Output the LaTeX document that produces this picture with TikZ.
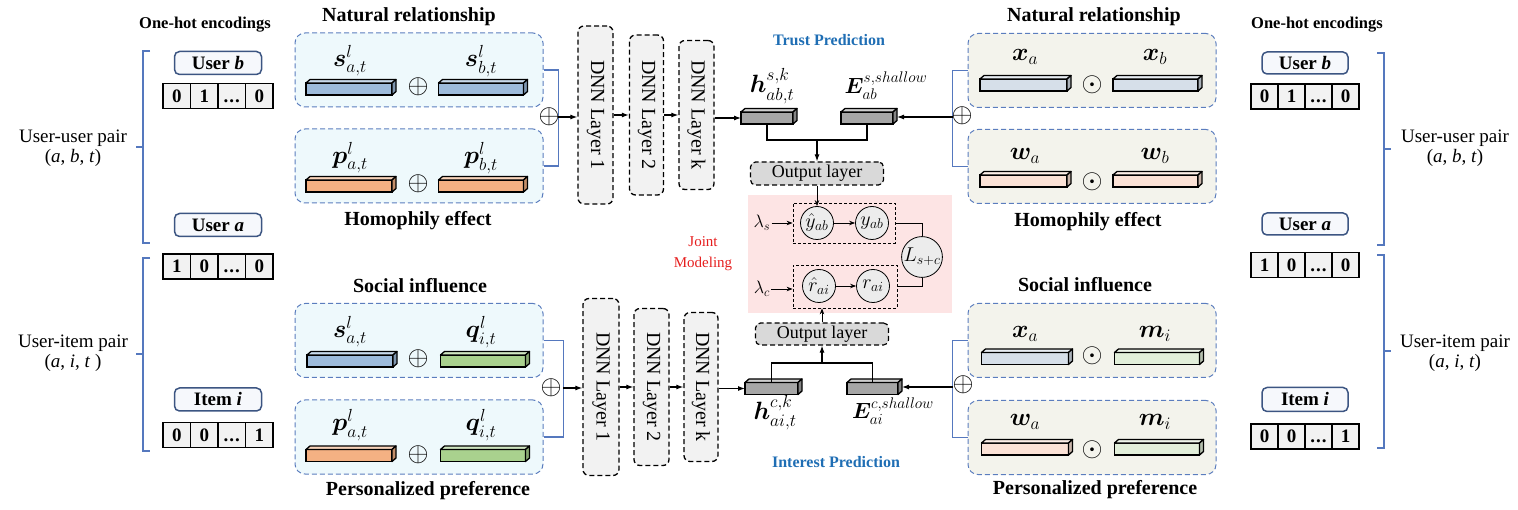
\RequirePackage{fix-cm}
\documentclass[tikz,border=0pt]{standalone}
\usepackage{amsmath}
\usepackage{bm}
\usepackage{fontspec}
\setmainfont{Liberation Serif}
\usetikzlibrary{arrows.meta,calc}
\definecolor{panelblue}{RGB}{91,125,190}
\definecolor{brkblue}{RGB}{85,120,190}
\definecolor{cyanbg}{RGB}{238,249,252}
\definecolor{beigebg}{RGB}{243,243,236}
\definecolor{barblue}{RGB}{157,187,219}
\definecolor{barorange}{RGB}{244,177,131}
\definecolor{bargreen}{RGB}{169,209,142}
\definecolor{bargray}{RGB}{166,166,166}
\definecolor{barxl}{RGB}{214,223,233}
\definecolor{barwl}{RGB}{251,226,214}
\definecolor{barml}{RGB}{226,239,218}
\definecolor{dnnfill}{RGB}{242,242,242}
\definecolor{outfill}{RGB}{217,217,217}
\definecolor{pinkbg}{RGB}{253,228,228}
\definecolor{trustblue}{RGB}{31,110,180}
\definecolor{jointred}{RGB}{230,30,30}
\definecolor{userborder}{RGB}{60,85,130}
\definecolor{userfill}{RGB}{246,248,252}
\definecolor{circfill}{RGB}{236,236,236}
\definecolor{cellfill}{RGB}{242,242,242}

\tikzset{
  barfront/.style={draw=black, line width=1.3pt, minimum height=12pt, inner sep=0pt, outer sep=0pt},
  barface/.style={draw=black, line width=1.3pt, line join=round},
  panelL/.style={draw=panelblue, line width=1pt, dash pattern=on 5pt off 3pt, rounded corners=10pt, fill=cyanbg, minimum width=248pt, minimum height=74pt, inner sep=0pt},
  panelR/.style={panelL, fill=beigebg},
  ttl/.style={font=\fontsize{20}{22}\selectfont\bfseries},
  ttls/.style={font=\fontsize{16.5}{18}\selectfont\bfseries},
  pairlab/.style={font=\fontsize{19}{20}\selectfont, align=center},
  userbox/.style={draw=userborder, line width=1.5pt, rounded corners=5pt, fill=userfill, minimum width=87pt, minimum height=23pt, inner sep=0pt, font=\fontsize{19}{20}\selectfont\bfseries},
  cell/.style={draw=black, line width=1.3pt, fill=cellfill, minimum height=25pt, inner sep=0pt, font=\fontsize{19}{20}\selectfont\bfseries},
  dnn/.style={draw=black, line width=1.3pt, dash pattern=on 5pt off 3pt, rounded corners=6pt, fill=dnnfill, inner sep=0pt, font=\fontsize{20}{22}\selectfont},
  outbox/.style={draw=black, line width=1.2pt, dash pattern=on 5pt off 3pt, rounded corners=5pt, fill=outfill, minimum width=133pt, minimum height=23pt, inner sep=0pt, font=\fontsize{18}{20}\selectfont},
  jbox/.style={draw=black, line width=0.8pt, dash pattern=on 3pt off 2pt, inner sep=0pt},
  circ/.style={circle, draw=black, line width=0.8pt, fill=circfill, minimum size=33pt, inner sep=0pt, font=\fontsize{20}{20}\selectfont},
  mlab/.style={inner sep=0pt, font=\fontsize{25}{26}\selectfont},
  elab/.style={inner sep=0pt, font=\fontsize{22}{24}\selectfont},
  opl/.style={inner sep=0pt, font=\fontsize{27}{27}\selectfont},
  brk/.style={draw=brkblue, line width=1.1pt},
  arr/.style={-{Latex[length=7pt,width=5pt]}, line width=1.1pt},
  sarr/.style={-{Stealth[length=6pt,width=4.5pt]}, line width=0.8pt},
  conn/.style={line width=1.1pt},
  lam/.style={inner sep=1pt, font=\fontsize{18}{18}\selectfont},
}

% name, x, y, width, colour
\newcommand{\mycube}[5]{%
  \node[barfront, minimum width=#4pt, fill=#5] (#1) at (#2,#3) {};
  \path[barface, fill=#5!55!white] (#1.north west) -- ++(4pt,3.5pt) -- ([shift={(4pt,3.5pt)}]#1.north east) -- (#1.north east) -- cycle;
  \path[barface, fill=#5!80!black] (#1.north east) -- ++(4pt,3.5pt) -- ([shift={(4pt,3.5pt)}]#1.south east) -- (#1.south east) -- cycle;
}
% prefix, x, y, cellwidth, d1..d4
\newcommand{\onehot}[8]{%
  \node[cell, minimum width=#4pt] (#1-1) at ({#2-1.5*#4},#3) {\vphantom{0}#5};
  \node[cell, minimum width=#4pt] (#1-2) at ({#2-0.5*#4},#3) {\vphantom{0}#6};
  \node[cell, minimum width=#4pt] (#1-3) at ({#2+0.5*#4},#3) {\vphantom{0}#7};
  \node[cell, minimum width=#4pt] (#1-4) at ({#2+1.5*#4},#3) {\vphantom{0}#8};
}
\newcommand{\mydots}{.\kern1pt.\kern1pt.}

\begin{document}
\begin{tikzpicture}[x=1pt,y=-1pt]
\useasboundingbox (0,0) rectangle (1518,510);

% ================= LEFT ONE-HOT =================
\node[ttls] (ohL) at (205,25) {One-hot encodings};
\node[userbox] (ubL) at (218,63) {User \textit{b}};
\onehot{tbL}{218}{96}{27.5}{0}{1}{\mydots}{0}
\node[userbox] (uaL) at (218,225) {User \textit{a}};
\onehot{taL}{218}{266.5}{27.5}{1}{0}{\mydots}{0}
\node[userbox] (uiL) at (218,399.5) {Item \textit{i}};
\onehot{tiL}{218}{435}{27.5}{0}{0}{\mydots}{1}

\draw[brk] (150,51) -- (143,51) -- (143,243) -- (150,243);
\draw[brk] (143,147) -- (136,147);
\draw[brk] (150,258) -- (143,258) -- (143,451) -- (150,451);
\draw[brk] (143,354) -- (136,354);
\node[pairlab] (uuL) at (73,148) {User-user pair\\(\textit{a}, \textit{b}, \textit{t})};
\node[pairlab] (uiLlab) at (73,353) {User-item pair\\(\textit{a}, \textit{i}, \textit{t} )};

% ================= LEFT PANELS =================
\node[ttl] (nrL) at (409,17) {Natural relationship};
\node[panelL] (pl1) at (419,70) {};
\node[panelL] (pl2) at (419,166) {};
\node[ttl] (heL) at (418,221) {Homophily effect};
\node[ttl] (siL) at (420,286) {Social influence};
\node[panelL] (pl3) at (419,340.5) {};
\node[panelL] (pl4) at (419,437) {};
\node[ttl] (ppL) at (428,491) {Personalized preference};

\mycube{sa}{349}{89}{86}{barblue}
\mycube{sb}{481}{89}{85}{barblue}
\node[opl] (o1) at (418,87) {$\oplus$};
\node[mlab] (sal) at (350,61) {$\bm{s}^{l}_{a,t}$};
\node[mlab] (sbl) at (481,61) {$\bm{s}^{l}_{b,t}$};

\mycube{pa}{349}{186}{86}{barorange}
\mycube{pb}{481}{186}{85}{barorange}
\node[opl] (o2) at (418,184) {$\oplus$};
\node[mlab] (pal) at (350,158) {$\bm{p}^{l}_{a,t}$};
\node[mlab] (pbl) at (481,158) {$\bm{p}^{l}_{b,t}$};

\mycube{sa2}{350}{361}{86}{barblue}
\mycube{qi}{483}{361}{85}{bargreen}
\node[opl] (o3) at (418,359) {$\oplus$};
\node[mlab] (sa2l) at (350,332) {$\bm{s}^{l}_{a,t}$};
\node[mlab] (qil) at (481,332) {$\bm{q}^{l}_{i,t}$};

\mycube{pa2}{349}{455.5}{86}{barorange}
\mycube{qi2}{483}{455.5}{85}{bargreen}
\node[opl] (o4) at (418,455) {$\oplus$};
\node[mlab] (pa2l) at (350,425) {$\bm{p}^{l}_{a,t}$};
\node[mlab] (qi2l) at (481,425) {$\bm{q}^{l}_{i,t}$};

% brackets to DNN
\draw[brk] (pl1.east) -- ++(15,0) |- (pl2.east);
\node[opl] (opL1) at (549,117) {$\oplus$};
\coordinate (jL1) at (558,117);
\draw[brk] (pl3.east) -- ++(20,0) |- (pl4.east);
\node[opl] (opL2) at (551,388) {$\oplus$};
\coordinate (jL2) at (563,388);

% ================= DNN LAYERS =================
\node[dnn, minimum width=35pt, minimum height=178pt] (d1) at (595.5,115) {\rotatebox{-90}{DNN Layer 1}};
\node[dnn, minimum width=34pt, minimum height=160pt] (d2) at (646.5,115) {\rotatebox{-90}{DNN Layer 2}};
\node[dnn, minimum width=35pt, minimum height=149pt] (d3) at (696.5,115) {\rotatebox{-90}{DNN Layer k}};
\draw[arr] (jL1) -- (jL1 -| d1.west);
\draw[arr] (d1.east) -- (d2.west);
\draw[arr] (d2.east) -- (d3.west);

\node[dnn, minimum width=36pt, minimum height=177pt] (d4) at (601,387) {\rotatebox{-90}{DNN Layer 1}};
\node[dnn, minimum width=35pt, minimum height=157pt] (d5) at (651.5,387) {\rotatebox{-90}{DNN Layer 2}};
\node[dnn, minimum width=34pt, minimum height=149pt] (d6) at (701,387) {\rotatebox{-90}{DNN Layer k}};
\draw[arr] (jL2) -- (jL2 -| d4.west);
\draw[arr] (d4.east) -- (d5.west);
\draw[arr] (d5.east) -- (d6.west);

% ================= TRUST PREDICTION =================
\node[font=\fontsize{16}{18}\selectfont\bfseries, text=trustblue] (tp) at (829,40) {Trust Prediction};
\mycube{hs}{767}{118}{52}{bargray}
\mycube{Es}{867}{118}{52}{bargray}
\node[mlab] (hsl) at (772,86) {$\bm{h}^{s,k}_{ab,t}$};
\node[elab] (Esl) at (886,86) {$\bm{E}^{s,shallow}_{ab}$};
\draw[arr] (d3.east |- hs.west) -- (hs.west);
\draw[conn] (hs.south) -- ++(0,16) -| (Es.south);
\coordinate (mid1) at ($(hs.south)!0.5!(Es.south)+(0,16)$);
\node[outbox] (out1) at (817,173.5) {Output layer};
\draw[arr] (mid1) -- (out1.north);

% ================= JOINT MODELING =================
\node[fill=pinkbg, minimum width=204pt, minimum height=118pt, inner sep=0pt] (joint) at (850,254) {};
\node[font=\fontsize{15}{21}\selectfont, text=jointred, align=center] (jm) at (703,254) {Joint\\Modeling};
\node[jbox, minimum width=102pt, minimum height=40pt] (jb1) at (844,223) {};
\node[jbox, minimum width=104pt, minimum height=43pt] (jb2) at (845,286.5) {};
\node[circ] (yh) at (817,223) {$\hat{y}_{ab}$};
\node[circ] (yy) at (872,223) {$y_{ab}$};
\node[circ] (rh) at (819,286) {$\hat{r}_{ai}$};
\node[circ] (rr) at (873,286) {$r_{ai}$};
\node[circ, minimum size=32pt] (Lsc) at (922,257) {$L_{s+c}$};
\draw[sarr] (yh) -- (yy);
\draw[sarr] (rh) -- (rr);
\draw[conn, line width=0.9pt] (jb1.east) -| (Lsc.north);
\draw[conn, line width=0.9pt] (jb2.east) -| (Lsc.south);
\node[lam] (ls) at (762,223) {$\lambda_s$};
\node[lam] (lc) at (762,289) {$\lambda_c$};
\draw[sarr] (ls) -- (ls -| jb1.west);
\draw[sarr] (lc) -- (lc -| jb2.west);
\draw[sarr] (out1.south) -- (yh.north);

% ================= INTEREST PREDICTION =================
\node[outbox, minimum height=22pt] (out2) at (822,334) {Output layer};
\draw[sarr] (out2.north) -- (out2.north |- jb2.south);
\mycube{hc}{771.5}{388.5}{53}{bargray}
\mycube{Ec}{872.5}{388.5}{51}{bargray}
\draw[arr] (d6.east |- hc.west) -- (hc.west);
\draw[conn] (hc.north) -- ++(0,-19.5) -| (Ec.north);
\coordinate (mid2) at ($(hc.north)!0.5!(Ec.north)+(0,-19.5)$);
\draw[arr] (mid2) -- (out2.south);
\node[mlab] (hcl) at (775,413) {$\bm{h}^{c,k}_{ai,t}$};
\node[elab] (Ecl) at (893,411) {$\bm{E}^{c,shallow}_{ai}$};
\node[font=\fontsize{16}{18}\selectfont\bfseries, text=trustblue] (ip) at (836,462) {Interest Prediction};

% ================= RIGHT PANELS =================
\node[ttl] (nrR) at (1094,17) {Natural relationship};
\node[panelR] (pr1) at (1092,70.5) {};
\node[panelR] (pr2) at (1092,166.5) {};
\node[ttl] (heR) at (1088,222) {Homophily effect};
\node[ttl] (siR) at (1085,285) {Social influence};
\node[panelR] (pr3) at (1092,340.5) {};
\node[panelR] (pr4) at (1092,437.5) {};
\node[ttl] (ppR) at (1095,490) {Personalized preference};

\mycube{xa}{1023.5}{85}{87}{barxl}
\mycube{xb}{1155.5}{85}{85}{barxl}
\node[opl] (d1R) at (1092,85) {$\odot$};
\node[mlab] (xal) at (1025,57) {$\bm{x}_{a}$};
\node[mlab] (xbl) at (1155,57) {$\bm{x}_{b}$};

\mycube{wa}{1023.5}{181}{87}{barwl}
\mycube{wb}{1155.5}{181}{85}{barwl}
\node[opl] (d2R) at (1092,182) {$\odot$};
\node[mlab] (wal) at (1025,156) {$\bm{w}_{a}$};
\node[mlab] (wbl) at (1155,156) {$\bm{w}_{b}$};

\mycube{xa2}{1025}{358.5}{87}{barxl}
\mycube{mi}{1157}{358.5}{85}{barml}
\node[opl] (d3R) at (1092,356) {$\odot$};
\node[mlab] (xa2l) at (1025,334) {$\bm{x}_{a}$};
\node[mlab] (mil) at (1155,334) {$\bm{m}_{i}$};

\mycube{wa2}{1025}{449}{87}{barwl}
\mycube{mi2}{1157}{449}{85}{barml}
\node[opl] (d4R) at (1092,450) {$\odot$};
\node[mlab] (wa2l) at (1025,422) {$\bm{w}_{a}$};
\node[mlab] (mi2l) at (1155,422) {$\bm{m}_{i}$};

\draw[brk] (pr1.west) -- ++(-15,0) |- (pr2.west);
\coordinate (jR1) at (953,117);
\node[opl] (opR1) at (962,116) {$\oplus$};
\draw[arr] (jR1) -- ([xshift=4pt]Es.east |- jR1);
\draw[brk] (pr3.west) -- ++(-15,0) |- (pr4.west);
\coordinate (jR2) at (953,387);
\node[opl] (opR2) at (963,385) {$\oplus$};
\draw[arr] (jR2) -- ([xshift=4pt]Ec.east |- jR2);

% ================= RIGHT ONE-HOT =================
\node[ttls] (ohR) at (1317,25) {One-hot encodings};
\node[userbox, minimum width=86pt, minimum height=22pt] (ubR) at (1305,63) {User \textit{b}};
\onehot{tbR}{1305}{96.5}{27}{0}{1}{\mydots}{0}
\node[userbox, minimum width=86pt, minimum height=22pt] (uaR) at (1305,224) {User \textit{a}};
\onehot{taR}{1305}{265}{27}{1}{0}{\mydots}{0}
\node[userbox, minimum width=86pt, minimum height=24pt] (uiR) at (1305,399.5) {Item \textit{i}};
\onehot{tiR}{1305}{436.5}{27}{0}{0}{\mydots}{1}

\draw[brk] (1377,53) -- (1384,53) -- (1384,245) -- (1377,245);
\draw[brk] (1384,149) -- (1391,149);
\draw[brk] (1377,255) -- (1384,255) -- (1384,448) -- (1377,448);
\draw[brk] (1384,351) -- (1391,351);
\node[pairlab] (uuR) at (1455,148) {User-user pair\\(\textit{a}, \textit{b}, \textit{t})};
\node[pairlab] (uiRlab) at (1455,353) {User-item pair\\(\textit{a}, \textit{i}, \textit{t})};
\end{tikzpicture}
\end{document}
